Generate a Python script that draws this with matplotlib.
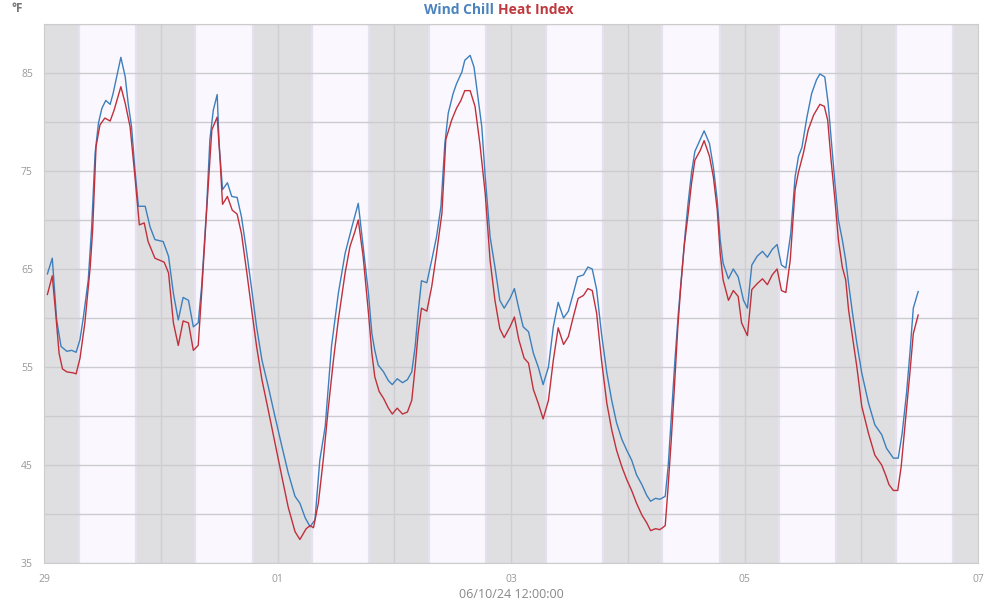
import matplotlib
matplotlib.use("Agg")
import matplotlib.pyplot as plt

# hours since day "29" 00:00 and temperatures in °F
wc_hours = [0.7, 1.7, 2.6, 3.5, 4.7, 5.7, 6.6, 7.4, 8.1, 9.1, 9.8, 10.5, 11.2, 11.9, 12.7, 13.6,
            14.2, 15.1, 15.8, 16.7, 17.3, 18.0, 18.7, 19.4, 20.8, 21.8, 22.8, 24.5, 25.6, 26.6,
            27.6, 28.6, 29.7, 30.7, 31.7, 32.4, 33.4, 34.1, 34.8, 35.6, 36.0, 36.7, 37.7, 38.6,
            39.7, 40.6, 41.7, 42.7, 43.7, 44.8, 46.1, 47.5, 48.9, 50.2, 51.6, 52.6, 53.7, 54.7,
            55.7, 56.7, 57.8, 59.1, 60.5, 61.9, 63.3, 64.6, 65.6, 66.7, 67.4, 68.0, 68.7, 69.8,
            70.8, 71.6, 72.6, 73.7, 74.7, 75.6, 76.3, 76.9, 77.6, 78.7, 79.7, 80.7, 81.6, 82.4,
            83.1, 84.1, 84.8, 85.9, 86.5, 87.6, 88.4, 89.3, 90.0, 90.7, 91.7, 92.7, 93.7, 94.6,
            95.8, 96.7, 97.5, 98.5, 99.6, 100.6, 101.6, 102.6, 103.7, 104.7, 105.7, 106.8, 107.8,
            108.8, 109.7, 110.9, 111.8, 112.7, 113.6, 114.6, 115.7, 116.7, 117.7, 118.8, 119.8,
            120.8, 121.8, 122.9, 123.9, 124.7, 125.7, 126.6, 127.7, 128.3, 129.0, 129.7, 130.4,
            131.1, 131.8, 132.4, 133.1, 133.8, 134.7, 135.7, 136.8, 137.6, 138.4, 139.0, 139.6,
            140.7, 141.7, 142.7, 143.8, 144.6, 145.5, 146.6, 147.7, 148.7, 149.7, 150.7, 151.6,
            152.5, 153.5, 154.4, 155.1, 155.8, 156.8, 157.8, 158.8, 159.5, 160.5, 161.2, 161.9,
            162.6, 163.3, 164.1, 164.8, 165.4, 166.2, 167.1, 168.1, 169.5, 170.8, 172.2, 173.2,
            174.6, 175.6, 176.4, 177.3, 178.0, 178.7, 179.7]
wind_chill = [64.5, 66.1, 59.8, 57.1, 56.6, 56.7, 56.5, 57.8, 60.1, 63.9, 69.3, 76.8, 79.9, 81.4,
              82.2, 81.8, 82.9, 85.0, 86.6, 84.6, 81.9, 79.5, 75.1, 71.4, 71.4, 69.3, 68.0, 67.8,
              66.3, 62.5, 59.8, 62.1, 61.8, 59.1, 59.5, 63.2, 71.0, 78.2, 81.2, 82.8, 77.8, 73.1,
              73.8, 72.4, 72.3, 70.3, 66.6, 62.9, 59.1, 55.7, 53.0, 49.9, 46.9, 44.2, 41.8, 41.1,
              39.6, 38.7, 39.4, 45.5, 48.9, 57.1, 62.5, 66.6, 69.3, 71.7, 67.3, 62.5, 58.4, 56.7,
              55.2, 54.5, 53.6, 53.2, 53.8, 53.4, 53.7, 54.5, 57.1, 60.5, 63.8, 63.6, 65.9, 68.3,
              71.4, 77.8, 80.9, 82.9, 83.9, 85.1, 86.3, 86.8, 85.6, 82.2, 79.5, 74.4, 68.3, 65.2,
              61.8, 61.0, 62.0, 63.0, 61.2, 59.1, 58.6, 56.4, 55.0, 53.2, 55.0, 59.1, 61.6, 60.0,
              60.7, 62.5, 64.2, 64.4, 65.2, 65.0, 62.9, 58.4, 54.4, 51.6, 49.3, 47.6, 46.5, 45.5,
              44.0, 43.0, 41.9, 41.3, 41.6, 41.5, 41.8, 44.8, 50.3, 55.7, 60.5, 64.6, 68.6, 71.7,
              74.8, 77.0, 78.0, 79.1, 77.8, 75.4, 72.0, 68.0, 65.6, 64.0, 65.0, 64.2, 61.8, 61.0,
              65.4, 66.3, 66.8, 66.2, 67.0, 67.5, 65.4, 65.1, 68.6, 74.4, 76.5, 77.4, 80.4, 82.9,
              84.3, 84.9, 84.6, 81.9, 77.8, 73.7, 70.0, 68.0, 65.9, 63.5, 60.5, 57.4, 54.4, 51.3,
              49.1, 48.1, 46.7, 45.7, 45.7, 48.2, 52.3, 56.4, 61.0, 62.7]

hi_hours = [0.7, 1.7, 2.4, 3.1, 3.8, 4.7, 6.0, 6.6, 7.4, 8.4, 9.5, 10.0, 10.7, 11.5, 12.5, 13.6,
            14.4, 15.8, 16.7, 17.7, 18.7, 19.6, 20.6, 21.4, 22.8, 24.7, 25.6, 26.6, 27.6, 28.6,
            29.7, 30.7, 31.7, 32.4, 33.4, 34.5, 35.6, 36.2, 36.7, 37.7, 38.7, 39.7, 40.6, 41.7,
            42.7, 43.7, 44.8, 46.1, 47.5, 48.9, 50.2, 51.6, 52.6, 53.9, 54.7, 55.4, 56.4, 57.4,
            58.4, 59.5, 60.5, 61.9, 62.9, 63.9, 64.6, 65.6, 66.7, 67.4, 68.0, 68.9, 69.8, 70.8,
            71.6, 72.6, 73.7, 74.7, 75.6, 76.3, 76.9, 77.6, 78.7, 79.7, 80.7, 81.8, 82.6, 83.8,
            84.8, 85.7, 86.5, 87.6, 88.6, 89.6, 90.7, 91.7, 92.7, 93.7, 94.6, 95.8, 96.7, 97.6,
            98.7, 99.6, 100.6, 101.6, 102.6, 103.7, 104.7, 105.7, 106.8, 107.8, 108.8, 109.8,
            110.9, 111.8, 112.7, 113.6, 114.6, 115.7, 116.7, 117.7, 118.8, 119.8, 120.8, 121.8,
            122.9, 123.9, 124.7, 125.7, 126.6, 127.7, 128.2, 128.9, 129.6, 130.3, 130.9, 131.6,
            132.5, 133.1, 133.8, 134.9, 135.7, 136.8, 137.6, 138.4, 139.0, 139.6, 140.7, 141.7,
            142.7, 143.4, 144.6, 145.5, 146.6, 147.7, 148.7, 149.7, 150.7, 151.6, 152.5, 153.4,
            154.4, 155.1, 156.1, 157.1, 158.2, 159.5, 160.4, 161.1, 161.8, 162.6, 163.3, 164.1,
            164.8, 165.4, 166.2, 167.1, 168.1, 169.5, 170.8, 172.2, 173.0, 173.7, 174.6, 175.5,
            176.2, 177.1, 178.0, 178.7, 179.7]
heat_index = [62.4, 64.3, 60.5, 56.4, 54.8, 54.5, 54.4, 54.3, 55.9, 59.5, 65.2, 69.0, 77.5, 79.7,
              80.4, 80.1, 81.2, 83.6, 81.9, 79.5, 74.4, 69.5, 69.7, 67.8, 66.1, 65.7, 64.6, 59.5,
              57.2, 59.7, 59.5, 56.7, 57.2, 62.5, 70.7, 79.2, 80.5, 76.1, 71.6, 72.4, 71.0, 70.6,
              68.6, 64.6, 60.8, 57.1, 53.7, 50.6, 47.2, 43.8, 40.7, 38.2, 37.4, 38.5, 38.8, 38.6,
              41.1, 45.5, 50.6, 55.7, 59.8, 64.6, 67.3, 68.8, 70.0, 66.3, 60.5, 56.4, 54.0, 52.5,
              51.8, 50.8, 50.2, 50.8, 50.2, 50.4, 51.6, 55.0, 58.4, 61.0, 60.7, 63.2, 66.6, 70.7,
              78.2, 80.2, 81.4, 82.2, 83.2, 83.2, 81.6, 77.8, 72.7, 65.9, 61.8, 58.9, 58.0, 59.1,
              60.1, 57.8, 55.9, 55.4, 52.7, 51.3, 49.7, 51.6, 55.7, 59.0, 57.3, 58.1, 60.1, 62.0,
              62.3, 63.0, 62.8, 60.5, 55.7, 51.3, 48.6, 46.5, 44.8, 43.5, 42.4, 41.1, 39.9, 39.1,
              38.3, 38.5, 38.4, 38.8, 42.1, 47.2, 53.0, 59.1, 63.2, 67.3, 71.0, 73.7, 76.1, 77.1,
              78.1, 76.5, 74.4, 71.0, 66.6, 63.9, 61.8, 62.8, 62.2, 59.5, 58.2, 62.9, 63.5, 64.0,
              63.4, 64.4, 65.0, 62.8, 62.6, 65.9, 73.1, 74.9, 76.8, 79.2, 80.7, 81.8, 81.6, 80.2,
              76.1, 72.0, 68.0, 65.2, 63.9, 60.8, 58.1, 55.0, 51.0, 48.2, 46.0, 45.0, 44.0, 43.0,
              42.4, 42.4, 44.8, 49.6, 54.4, 58.4, 60.3]

day_labels = ["29", "01", "03", "05", "07"]
n_days = 8
sunrise_h = 7.1
sunset_h = 18.9
x_title = "06/10/24 12:00:00"

plt.rcParams['font.family'] = ['Open Sans', 'DejaVu Sans']

fig = plt.figure(figsize=(10, 6), dpi=100)
ax = fig.add_axes([0.044, 0.0617, 0.934, 0.8983])

total = n_days * 24
ax.set_facecolor('#dfdfe2')
for d in range(-1, n_days + 1):
    start = d * 24 + sunrise_h
    end = d * 24 + sunset_h
    ax.axvspan(start, end, color='#faf8fe', lw=0, zorder=0)
    for edge in (start, end):
        ax.axvline(edge, color='#e6e0f0', lw=1.6, zorder=0.5)

for y in range(35, 91, 5):
    ax.axhline(y, color='#cbcbd0', lw=1, zorder=1)
for d in range(1, n_days):
    ax.axvline(d * 24, color='#cfcfd3', lw=1, zorder=1)

ax.plot(wc_hours, wind_chill, color='#3d7fbc', lw=1, zorder=3)
ax.plot(hi_hours, heat_index, color='#c0303a', lw=1, zorder=3)

ax.set_xlim(0, total)
ax.set_ylim(35, 90)
ax.set_yticks(range(35, 90, 10))
ax.set_xticks(range(0, total + 1, 48))
ax.set_xticklabels(day_labels)
ax.tick_params(length=0, labelsize=7.5, labelcolor='#999999')
ax.tick_params(axis='x', pad=8)
ax.tick_params(axis='y', pad=8)
for s in ax.spines.values():
    s.set_color('#cccccc')

ax.set_xlabel(x_title, fontsize=9, color='#888888', labelpad=2)

fig.text(0.4935, 0.983, "Wind Chill", color='#4a83bd', fontsize=10, fontweight='bold',
         ha='right', va='center')
fig.text(0.4985, 0.983, "Heat Index", color='#bf3a3f', fontsize=10, fontweight='bold',
         ha='left', va='center')
fig.text(0.011, 0.985, "°F", color='#777777', fontsize=8.5, fontweight='bold', ha='left', va='center')

fig.savefig("out.png", dpi=100)
